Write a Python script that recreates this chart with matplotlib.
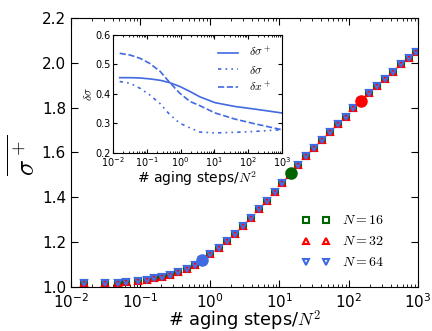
import matplotlib
matplotlib.use("Agg")
import matplotlib.pyplot as plt
import numpy as np

plt.rcParams['mathtext.fontset'] = 'cm'
plt.rcParams['font.family'] = ['DejaVu Sans']

# main data: aging steps / N^2 and mean sigma^+
steps = [0.0156, 0.031, 0.047, 0.062, 0.094, 0.125, 0.158, 0.203, 0.264, 0.351,
         0.469, 0.612, 0.78, 1.02, 1.36, 1.77, 2.29, 2.98, 3.88, 5.07,
         6.61, 8.61, 11.1, 14.5, 18.7, 24.3, 31.6, 41.4, 53.7, 69.7,
         90.8, 117, 151, 199, 259, 338, 441, 574, 735, 937]
sigma_plus = [1.016, 1.017, 1.019, 1.021, 1.027, 1.033, 1.038, 1.045, 1.055, 1.068,
              1.081, 1.100, 1.120, 1.145, 1.175, 1.205, 1.237, 1.272, 1.308, 1.348,
              1.385, 1.424, 1.463, 1.500, 1.543, 1.582, 1.618, 1.655, 1.690, 1.725,
              1.760, 1.796, 1.830, 1.865, 1.896, 1.927, 1.960, 1.994, 2.021, 2.050]
series_labels = ['$N=16$', '$N=32$', '$N=64$']
series_colors = ['darkgreen', 'red', 'royalblue']
series_markers = ['s', '^', 'v']

# highlighted points
hl_x = [0.78, 14.7, 151]
hl_y = [1.12, 1.51, 1.83]
hl_colors = ['royalblue', 'darkgreen', 'red']

# inset data
in_x = [0.0156, 0.032, 0.062, 0.12, 0.25, 0.48, 0.95, 1.9, 3.7, 10.5, 41, 160, 1000]
d_sigma_plus = [0.455, 0.455, 0.454, 0.451, 0.446, 0.438, 0.425, 0.408, 0.390, 0.370, 0.357, 0.348, 0.335]
d_sigma = [0.442, 0.436, 0.419, 0.397, 0.366, 0.329, 0.300, 0.284, 0.270, 0.267, 0.269, 0.272, 0.278]
d_x_plus = [0.538, 0.532, 0.521, 0.504, 0.476, 0.438, 0.402, 0.374, 0.360, 0.335, 0.314, 0.298, 0.278]

fig = plt.figure(figsize=(4.32, 3.31), dpi=100)
ax = fig.add_axes([0.164, 0.133, 0.804, 0.813])

for lab, col, mk in zip(series_labels, series_colors, series_markers):
    ax.plot(steps, sigma_plus, linestyle='none', marker=mk, markersize=5,
            markerfacecolor='none', markeredgecolor=col, markeredgewidth=1.5, label=lab)
for x, y, c in zip(hl_x, hl_y, hl_colors):
    ax.plot([x], [y], 'o', color=c, markersize=8, zorder=5)

ax.set_xscale('log')
ax.set_xlim(1e-2, 1e3)
ax.set_ylim(1.0, 2.2)
ax.set_yticks([1.0, 1.2, 1.4, 1.6, 1.8, 2.0, 2.2])
ax.tick_params(which='both', direction='in', top=True, right=True, labelsize=11)
ax.tick_params(which='major', length=5)
ax.tick_params(which='minor', length=2.5)
ax.set_xlabel('# aging steps/$N^2$', fontsize=12.8, labelpad=-1.5)
ax.set_ylabel(r'$\overline{\sigma^+}$', fontsize=19)
ax.yaxis.set_label_coords(-0.086, 0.49)
ax.legend(loc='lower right', bbox_to_anchor=(0.94, 0.019), numpoints=2, frameon=False,
          fontsize=10, handlelength=2.05, handletextpad=0.85, labelspacing=0.5,
          borderpad=0.4)

# inset
ins = fig.add_axes([0.262, 0.539, 0.390, 0.355])
ins.plot(in_x, d_sigma_plus, '-', color='royalblue', lw=1.2, label=r'$\delta\sigma^+$')
ins.plot(in_x, d_sigma, linestyle=(0, (2, 2.5, 1, 2.5, 1, 2.5)), color='royalblue',
         lw=1.2, label=r'$\delta\sigma$')
ins.plot(in_x, d_x_plus, '--', color='royalblue', lw=1.2, label=r'$\delta x^+$')
ins.set_xscale('log')
ins.set_xlim(1e-2, 1e3)
ins.set_ylim(0.2, 0.6)
ins.set_yticks([0.2, 0.3, 0.4, 0.5, 0.6])
ins.tick_params(which='both', direction='in', top=True, right=True, labelsize=7, pad=2)
ins.tick_params(which='major', length=3)
ins.tick_params(which='minor', length=1.5)
ins.set_xlabel('# aging steps/$N^2$', fontsize=10, labelpad=0)
ins.set_ylabel(r'$\delta\sigma$', fontsize=8.5, labelpad=0)
ins.legend(loc='upper right', frameon=False, fontsize=8.5, handlelength=1.7,
           handletextpad=0.9, labelspacing=0.3)

fig.savefig('out.png', dpi=100)
